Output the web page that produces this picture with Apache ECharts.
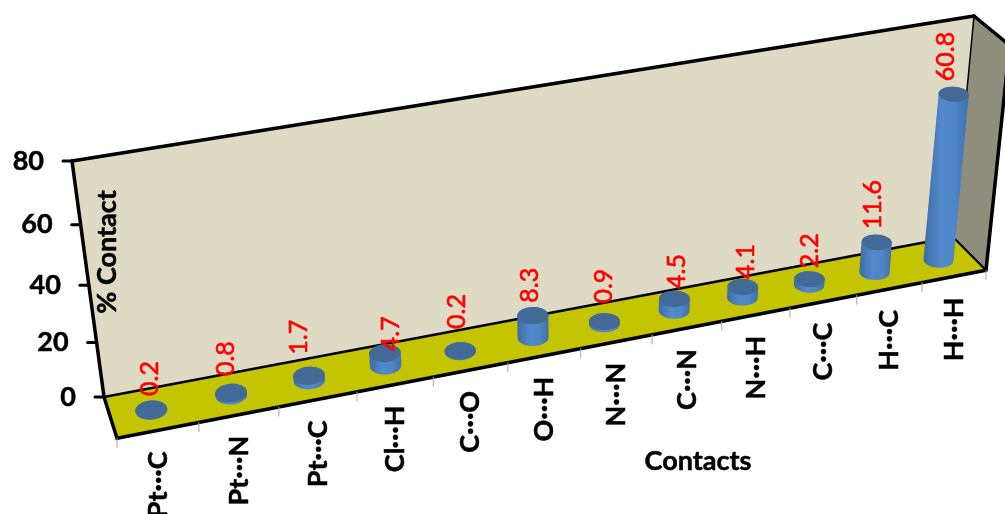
<!DOCTYPE html>
<html>
<head>
<meta charset="utf-8">
<style>html,body{margin:0;padding:0;background:#fff;overflow:hidden}#chart{width:1005px;height:514px}</style>
<script src="https://cdn.jsdelivr.net/npm/echarts@6/dist/echarts.min.js"></script>
</head>
<body>
<div id="chart"></div>
<script>
// Share of intermolecular contacts, drawn as cylinders in a tilted 3D box.
const categories = ['Pt···C','Pt···N','Pt···C','Cl···H','C···O','O···H','N···N','C···N','N···H','C···C','H···C','H···H'];
const contactValues = [0.2,0.8,1.7,4.7,0.2,8.3,0.9,4.5,4.1,2.2,11.6,60.8];
const valueTicks = [0,20,40,60,80];

// Screen corners of the box: back wall, then the front edge of the floor.
const wallCorners = [[104,397],[953,237],[974,16],[72,161]];
const floorFront = [[117,443],[986,266]];
// Hand placement of each value label relative to the top of its cylinder.
const labelOffsets = [[-1,-14],[-5,-17],[-10,-21],[6,-2],[-3,-22],[-3,-13],[0,-18],[3,-10],[3,-8],[0,-11],[-4,-13],[-8,-13]];

const FONT = 'Lato, "Open Sans", sans-serif';
const W = 1005, H = 514;
const U_WARP = 1.03;   // slackens the foreshortening along the category direction
const V_WARP = 0.96;   // tightens the lower part of the value scale

// Projective map of the unit square onto the back wall.
function squareToQuad(q) {
  const [[x0,y0],[x1,y1],[x2,y2],[x3,y3]] = q;
  const dx1=x1-x2, dx2=x3-x2, sx=x0-x1+x2-x3, dy1=y1-y2, dy2=y3-y2, sy=y0-y1+y2-y3;
  const den=dx1*dy2-dx2*dy1, g=(sx*dy2-dx2*sy)/den, h=(dx1*sy-sx*dy1)/den;
  return [[x1-x0+g*x1, x3-x0+h*x3, x0],[y1-y0+g*y1, y3-y0+h*y3, y0],[g,h,1]];
}
const M = squareToQuad(wallCorners);
// Depth column of the camera matrix, fitted to the floor's front edge.
const depthCol = (function () {
  const a=[M[0][2],M[1][2],M[2][2]];
  const b=[M[0][0]+M[0][2],M[1][0]+M[1][2],M[2][0]+M[2][2]];
  const [[fx0,fy0],[fx1,fy1]] = floorFront;
  const lx=fx0*a[2]-a[0], ly=fy0*a[2]-a[1], rx=fx1*b[2]-b[0], ry=fy1*b[2]-b[1];
  const cw=(lx-rx)/(fx1-fx0);
  const cx=(lx+fx0*cw+rx+fx1*cw)/2, cy=(ly+fy0*cw+ry+fy1*cw)/2;
  return [cx,cy,cw];
})();
function project(u0,v0,d) {
  const u=u0*U_WARP/(1+(U_WARP-1)*u0);
  const v=v0*V_WARP/(1+(V_WARP-1)*v0);
  const w=M[2][0]*u+M[2][1]*v+M[2][2]+d*depthCol[2];
  return [(M[0][0]*u+M[0][1]*v+M[0][2]+d*depthCol[0])/w,(M[1][0]*u+M[1][1]*v+M[1][2]+d*depthCol[1])/w];
}
// The hidden cartesian grid fills the canvas, so its pixels normalise to box coordinates.
function boxCoord(api,cat,val) {
  const p=api.coord([cat,val]);
  return [p[0]/W, 1-p[1]/H];
}
function hull(points) {
  const pts=points.slice().sort((a,b)=>a[0]-b[0]||a[1]-b[1]);
  const cross=(o,a,b)=>(a[0]-o[0])*(b[1]-o[1])-(a[1]-o[1])*(b[0]-o[0]);
  const lo=[],up=[];
  for(const p of pts){while(lo.length>1&&cross(lo[lo.length-2],lo[lo.length-1],p)<=0)lo.pop();lo.push(p);}
  for(let i=pts.length-1;i>=0;i--){const p=pts[i];while(up.length>1&&cross(up[up.length-2],up[up.length-1],p)<=0)up.pop();up.push(p);}
  lo.pop();up.pop();return lo.concat(up);
}
const poly=(points,style)=>({type:'polygon',shape:{points},style,silent:true});
const seg=(p,q,stroke,lineWidth)=>({type:'line',shape:{x1:p[0],y1:p[1],x2:q[0],y2:q[1]},style:{stroke,lineWidth,lineCap:'round'},silent:true});
const boldText={font:'bold 27px '+FONT,fill:'#000',stroke:'#000',lineWidth:0.5};

function renderBox(params,api) {
  const wall=[project(0,0,0),project(1,0,0),project(1,1,0),project(0,1,0)];
  const floor=[project(0,0,0),project(1,0,0),project(1,0,1),project(0,0,1)];
  const side=[project(1,0,0),project(1,1,0),project(1,1,1),project(1,0,1)];
  const children=[
    poly(wall,{fill:'#dedac3'}),
    poly(side,{fill:'#8f8d7b'}),
    poly(floor,{fill:'#c4c400'}),
    seg(project(0,0,0),project(1,0,0),'#000',2.5),
    seg(project(0,1,0),project(1,1,0),'#000',3.5),
    seg(project(0,0,0),project(0,1,0),'#000',3.5),
    seg(project(1,0,0),project(1,1,0),'#000',1.5),
    seg(project(0,0,0),project(0,0,1),'#000',3.5),
    seg(project(1,0,0),project(1,0,1),'#000',2),
    seg(project(0,0,1),project(1,0,1),'#000',3.5),
    seg(project(1,1,0),project(1,1,1),'#000',3.5),
    seg(project(1,0,1),project(1,1,1),'#000',3.5)
  ];
  // Value axis ticks and labels on the left edge of the wall.
  valueTicks.forEach(t=>{
    const v=boxCoord(api,0,t)[1], p=project(0,v,0);
    children.push(seg([p[0]-9,p[1]],p,'#000',3));
    children.push({type:'text',x:p[0]-28,y:p[1],silent:true,
      style:Object.assign({text:String(t),x:0,y:0,align:'right',verticalAlign:'middle'},boldText)});
  });
  // Category ticks and rotated labels under the front edge.
  const n=categories.length;
  for(let i=0;i<=n;i++){
    const p=project(i/n,0,1);
    children.push(seg(p,[p[0],p[1]+9],'#a6a6a6',1));
  }
  categories.forEach((name,i)=>{
    const u=boxCoord(api,i,0)[0], p=project(u,0,1);
    children.push({type:'text',x:p[0],y:p[1]+21,rotation:Math.PI/2,silent:true,
      style:Object.assign({text:name,x:0,y:0,align:'right',verticalAlign:'middle'},boldText)});
  });
  return {type:'group',children};
}

const D_C=0.52;
// Cylinder caps: screen ellipse whose size and tilt drift with the category position.
function ring(u,v) {
  const c=project(u,v,D_C);
  const a=16-u, b=9.5-2*u, tilt=(-6+10*u)*Math.PI/180;
  const pts=[];
  for(let k=0;k<48;k++){
    const t=k/48*Math.PI*2, ex=a*Math.cos(t), ey=b*Math.sin(t);
    pts.push([c[0]+ex*Math.cos(tilt)-ey*Math.sin(tilt), c[1]+ex*Math.sin(tilt)+ey*Math.cos(tilt)]);
  }
  return pts;
}
function renderCylinder(params,api) {
  const i=api.value(0), val=api.value(1);
  const [u,v0]=boxCoord(api,i,0), v1=boxCoord(api,i,val)[1];
  const bottom=ring(u,v0), top=ring(u,v1);
  const body=hull(bottom.concat(top));
  return {type:'group',children:[
    poly(body,{fill:new echarts.graphic.LinearGradient(0,0,1,0,[
      {offset:0,color:'#3d6ca6'},{offset:0.4,color:'#5289cb'},{offset:0.7,color:'#4f86c8'},{offset:1,color:'#3f70ab'}])}),
    poly(top,{fill:'#436a96'})
  ]};
}
function renderValueLabel(params,api) {
  const i=api.value(0), val=api.value(1);
  const [u,v]=boxCoord(api,i,val), p=project(u,v,D_C), o=labelOffsets[i];
  return {type:'text',x:p[0]+o[0],y:p[1]+o[1],rotation:Math.PI/2,silent:true,
    style:{text:String(val),x:0,y:0,align:'left',verticalAlign:'middle',font:'25px '+FONT,fill:'#ff0000',stroke:'#ff0000',lineWidth:0.6}};
}

const points=contactValues.map((v,i)=>[i,v]);
const chart=echarts.init(document.getElementById('chart'),null,{renderer:'canvas',width:W,height:H});
chart.setOption({
  animation:false,
  backgroundColor:'#fff',
  grid:{left:0,right:0,top:0,bottom:0},
  xAxis:{type:'category',data:categories,show:false},
  yAxis:{type:'value',min:0,max:80,interval:20,show:false},
  series:[
    {type:'custom',name:'box',data:[[0,0]],renderItem:renderBox,z:1,silent:true},
    {type:'custom',name:'% Contact',data:points,renderItem:renderCylinder,z:2,silent:true},
    {type:'custom',name:'values',data:points,renderItem:renderValueLabel,z:3,silent:true}
  ],
  graphic:[
    {type:'text',z:10,x:698,y:461,silent:true,style:Object.assign({text:'Contacts',align:'center',verticalAlign:'middle'},boldText)},
    {type:'text',z:10,x:107,y:252,rotation:Math.PI/2,silent:true,style:Object.assign({text:'% Contact',align:'center',verticalAlign:'middle'},boldText)}
  ]
});
</script>
</body>
</html>
